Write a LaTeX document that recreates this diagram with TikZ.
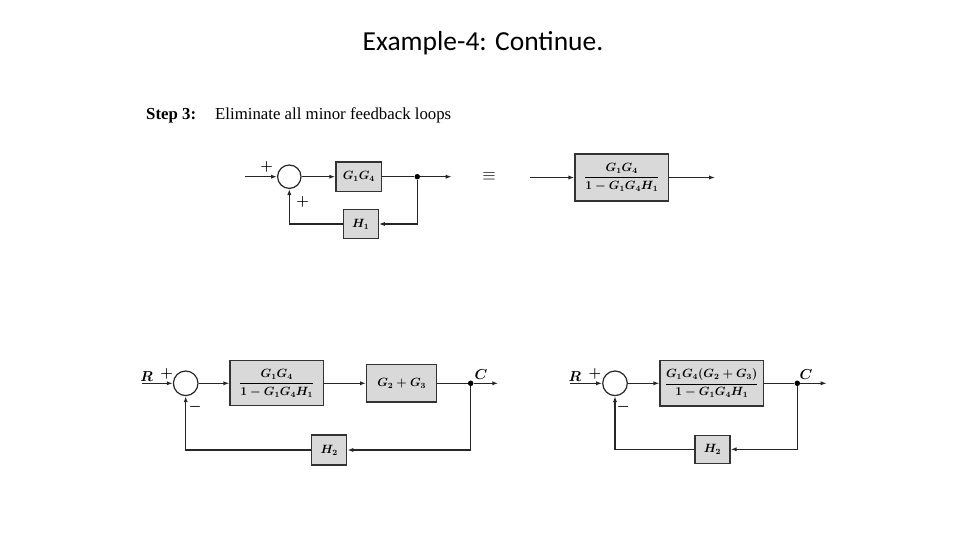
\documentclass[tikz,border=0pt]{standalone}
\usepackage{amsmath}
\usepackage{fontspec}
\setmainfont{Liberation Serif}
\newfontfamily\titlefont{Carlito}
\usetikzlibrary{arrows.meta}
\begin{document}
\begin{tikzpicture}[x=1pt,y=-1pt,
  line/.style={draw=black!85, line width=1.2pt},
  arr/.style={line, -{Latex[length=6pt,width=4.2pt]}},
  sumc/.style={circle, draw=black!85, line width=1.2pt, fill=white, minimum size=#1pt, inner sep=0pt},
  blk/.style={draw=black!80, line width=1.3pt, fill=black!15, inner sep=1pt, font=\fontsize{12}{14}\selectfont\boldmath},
  lbl/.style={font=\fontsize{14}{16}\selectfont\boldmath, inner sep=0pt},
  dotn/.style={circle, fill=black, minimum size=5.5pt, inner sep=0pt}]
\useasboundingbox (0,0) rectangle (960,540);
\node[font=\titlefont\fontsize{27.5}{30}\selectfont] (title) at (483,43) {Example-4: Continue.};
\node[anchor=west, font=\fontsize{16.8}{19}\selectfont, inner sep=0pt] (step) at (146,115.5) {\textbf{Step 3:}\hspace{0.8em} Eliminate all minor feedback loops};
% top left
\coordinate (in1) at (245,176.7);
\node[sumc=23.4] (s1) at (289.3,176.7) {};
\node[blk, minimum width=45.7pt, minimum height=29.4pt] (g14) at (358.8,176.7) {$G_1G_4$};
\node[dotn] (d1) at (417.3,176.7) {};
\coordinate (out1) at (451.7,176.7);
\node[blk, minimum width=35pt, minimum height=29pt] (h1) at (360.8,224) {$H_1$};
\node[lbl] (p1) at (266.7,167) {$+$};
\node[lbl] (p2) at (302.7,201.7) {$+$};
\draw[arr] (in1) -- (s1);
\draw[arr] (s1) -- (g14);
\draw[line] (g14) -- (d1);
\draw[arr] (d1) -- (out1);
\draw[arr] (d1) |- (h1);
\draw[arr] (h1) -| (s1);
\node[font=\fontsize{16}{18}\selectfont] (eq) at (489,176) {$\equiv$};
% top right
\coordinate (in2) at (530,177.5);
\node[blk, minimum width=93.3pt, minimum height=47pt] (big1) at (621.7,177.5) {$\dfrac{G_1G_4}{1-G_1G_4H_1}$};
\coordinate (out2) at (715,177.5);
\draw[arr] (in2) -- (big1);
\draw[arr] (big1) -- (out2);
% bottom left
\coordinate (in3) at (141.7,383.3);
\node[lbl] (R1) at (146.7,376.7) {$R$};
\node[lbl] (p3) at (166.7,374) {$+$};
\node[sumc=24.6] (s2) at (185.7,383.3) {};
\node[blk, minimum width=93.3pt, minimum height=45pt] (b1) at (276.7,383.3) {$\dfrac{G_1G_4}{1-G_1G_4H_1}$};
\node[blk, minimum width=70pt, minimum height=37.3pt] (b2) at (401.7,383.3) {$G_2+G_3$};
\node[dotn] (d2) at (470.7,383.3) {};
\node[lbl] (C1) at (481,375) {$C$};
\coordinate (out3) at (498.3,383.3);
\node[blk, minimum width=35pt, minimum height=30pt] (h2) at (329.2,450) {$H_2$};
\node[lbl] (m1) at (195,407.3) {$-$};
\draw[arr] (in3) -- (s2);
\draw[arr] (s2) -- (b1);
\draw[arr] (b1) -- (b2);
\draw[line] (b2) -- (d2);
\draw[arr] (d2) -- (out3);
\draw[arr] (d2) |- (h2);
\draw[arr] (h2) -| (s2);
% bottom right
\coordinate (in4) at (570,383.3);
\node[lbl] (R2) at (575,376.7) {$R$};
\node[lbl] (p4) at (595,374) {$+$};
\node[sumc=24.6] (s3) at (615,383.3) {};
\node[blk, minimum width=103.3pt, minimum height=45.3pt] (b3) at (711.7,383.3) {$\dfrac{G_1G_4(G_2+G_3)}{1-G_1G_4H_1}$};
\node[dotn] (d3) at (797.3,383.3) {};
\node[lbl] (C2) at (806,375) {$C$};
\coordinate (out4) at (826.7,383.3);
\node[blk, minimum width=35pt, minimum height=28.3pt] (h3) at (712.5,449.3) {$H_2$};
\node[lbl] (m2) at (623.3,407.3) {$-$};
\draw[arr] (in4) -- (s3);
\draw[arr] (s3) -- (b3);
\draw[line] (b3) -- (d3);
\draw[arr] (d3) -- (out4);
\draw[arr] (d3) |- (h3);
\draw[arr] (h3) -| (s3);
\end{tikzpicture}
\end{document}
